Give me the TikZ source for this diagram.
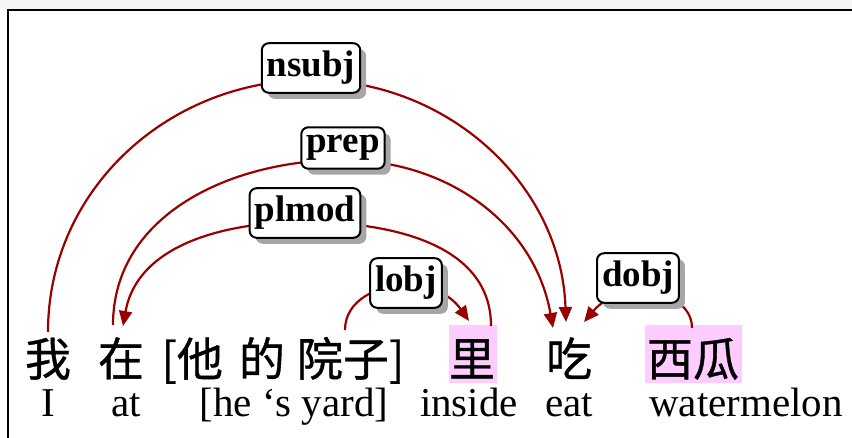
\documentclass[tikz,border=0pt]{standalone}
\usepackage{fontspec}
\setmainfont{Liberation Serif}
\newfontfamily\cjk[FakeBold=0.8]{Noto Sans CJK SC}
\usetikzlibrary{arrows.meta,shadows}
\definecolor{arccol}{HTML}{990000}
\definecolor{hl}{HTML}{FFCCFF}
\definecolor{band}{HTML}{F6F6F6}
\begin{document}
\begin{tikzpicture}[x=1pt,y=-1pt,
 deplabel/.style={draw=black, line width=2pt, rounded corners=7pt, fill=white,
   font=\fontsize{37}{39}\selectfont\bfseries, inner xsep=5pt, inner ysep=8pt,
   drop shadow={shadow xshift=6pt, shadow yshift=-6pt, fill=gray!70, opacity=1}},
 arcline/.style={draw=arccol, line width=2.2pt},
 tip/.style={-{Triangle[length=15pt,width=13pt]}},
 zh/.style={font=\cjk\fontsize{46}{48}\selectfont, inner sep=0pt, anchor=base},
 en/.style={font=\fontsize{41}{43}\selectfont, inner sep=0pt, anchor=base},
]
\useasboundingbox (0,0) rectangle (852,438);
% frame
\fill[band] (0,0) rectangle (852,9);
\draw[line width=2pt] (8,438) -- (8,10) -- (852,10);
% highlights
\fill[hl] (449,325) rectangle (497,383);
\fill[hl] (645,325) rectangle (742,383);
% words
\node[zh] (w1) at (48,376) {我};
\node[zh] (w2) at (121,376) {在};
\node[zh] (w3) at (283,376) {[他\hspace{16pt}的\hspace{12pt}院子]};
\node[zh] (w4) at (472,376) {里};
\node[zh] (w5) at (569,376) {吃};
\node[zh] (w6) at (693,376) {西瓜};
\node[en] (e1) at (48,417) {I};
\node[en] (e2) at (126,417) {at};
\node[en] (e3) at (294,417) {[he ‘s yard]};
\node[en] (e4) at (469,417) {inside};
\node[en] (e5) at (569,417) {eat};
\node[en] (e6) at (746,417) {watermelon};
% arc coordinates
\coordinate (n1s) at (48,332);
\coordinate (n1m) at (311,80);
\coordinate (n1e) at (566,322);
\coordinate (p1s) at (113,325);
\coordinate (p1m) at (343,160);
\coordinate (p1e) at (553,328);
\coordinate (m1s) at (491,326);
\coordinate (m1m) at (305,222);
\coordinate (m1e) at (123,326);
\coordinate (o1s) at (345,330);
\coordinate (o1m) at (408,285);
\coordinate (o1e) at (469,321);
\coordinate (d1s) at (692,328);
\coordinate (d1m) at (640,292);
\coordinate (d1e) at (584,322);
% arcs
\draw[arcline,tip] (n1s) to[out=90,in=180] (n1m) to[out=0,in=92] (n1e);
\draw[arcline,tip] (p1s) to[out=90,in=180] (p1m) to[out=0,in=100] (p1e);
\draw[arcline,tip] (m1s) to[out=90,in=0] (m1m) to[out=180,in=80] (m1e);
\draw[arcline,tip] (o1s) to[out=90,in=180] (o1m) to[out=0,in=125] (o1e);
\draw[arcline,tip] (d1s) to[out=90,in=0] (d1m) to[out=180,in=50] (d1e);
% labels
\node[deplabel] (l1) at (311,68) {nsubj};
\node[deplabel] (l2) at (343,148) {prep};
\node[deplabel] (l3) at (305,213) {plmod};
\node[deplabel] (l4) at (406,283) {lobj};
\node[deplabel] (l5) at (638,278) {dobj};
\end{tikzpicture}
\end{document}
